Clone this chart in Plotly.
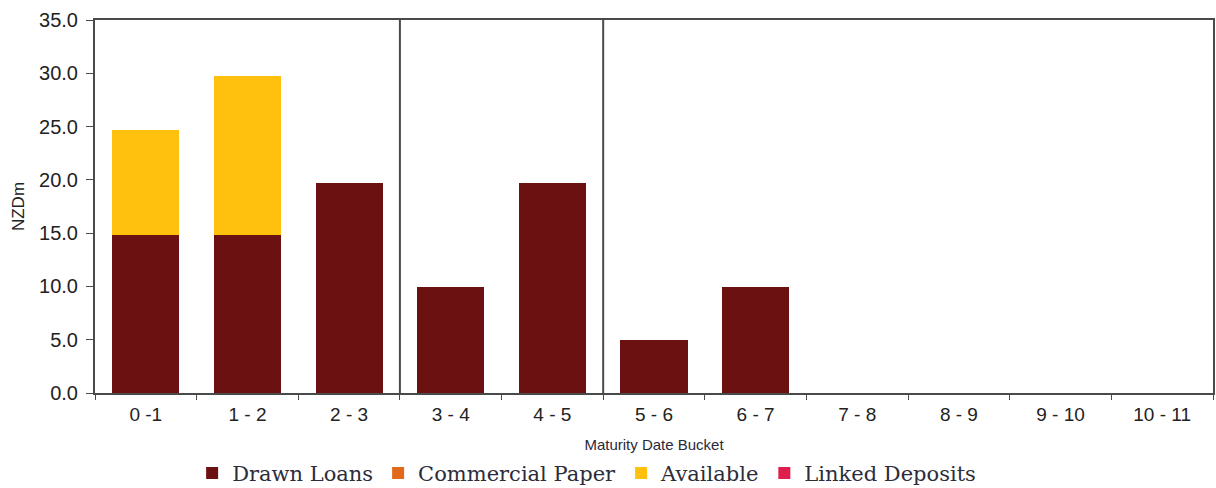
import plotly.graph_objects as go

# Maturity buckets (years) and facility amounts in NZD millions
buckets = ["0 -1", "1 - 2", "2 - 3", "3 - 4", "4 - 5", "5 - 6",
           "6 - 7", "7 - 8", "8 - 9", "9 - 10", "10 - 11"]
drawn_loans = [14.8, 14.8, 19.7, 9.9, 19.7, 5.0, 9.9, 0, 0, 0, 0]
commercial_paper = [0, 0, 0, 0, 0, 0, 0, 0, 0, 0, 0]
available = [9.9, 14.9, 0, 0, 0, 0, 0, 0, 0, 0, 0]
linked_deposits = [0, 0, 0, 0, 0, 0, 0, 0, 0, 0, 0]

y_ticks = [0, 5, 10, 15, 20, 25, 30, 35]
# Group dividers between bucket ranges (category positions)
dividers = [2.5, 4.5]

series = [
    ("Drawn Loans", drawn_loans, "#6b1111"),
    ("Commercial Paper", commercial_paper, "#e0691a"),
    ("Available", available, "#ffc10e"),
    ("Linked Deposits", linked_deposits, "#de1f4c"),
]

fig = go.Figure()
for name, vals, color in series:
    fig.add_trace(go.Bar(
        x=buckets, y=vals, name=name,
        marker=dict(color=color, line=dict(width=0)),
    ))

axis_color = "#4a4a4a"
for d in dividers:
    fig.add_shape(type="line", xref="x", yref="y", x0=d, x1=d, y0=0, y1=35,
                  line=dict(color=axis_color, width=2))

fig.update_layout(
    width=1216, height=488,
    margin=dict(l=95, r=3, t=20, b=95, autoexpand=False),
    paper_bgcolor="white", plot_bgcolor="white",
    barmode="stack", bargap=0.34,
    showlegend=True,
    legend=dict(
        orientation="h", xref="container", yref="container",
        x=0.158, xanchor="left", y=0.03, yanchor="middle",
        font=dict(family="DejaVu Serif", size=21, color="#2c2c3a"),
        itemwidth=30, traceorder="normal",
    ),
    font=dict(family="Liberation Sans, Arial", color="#222222"),
)

fig.update_xaxes(
    type="category", tickson="boundaries", automargin=True,
    ticks="outside", ticklen=5, tickcolor=axis_color,
    showline=True, linecolor=axis_color, linewidth=2, mirror=True,
    showgrid=False,
    tickfont=dict(size=19, color="#222222"),
    ticklabelstandoff=3,
    title=dict(text="Maturity Date Bucket",
               font=dict(size=15, color="#2a2a3a"), standoff=16),
)
fig.update_yaxes(
    range=[0, 35], tickvals=y_ticks, ticktext=[f"{v:.1f}" for v in y_ticks],
    ticks="outside", ticklen=7, tickcolor=axis_color, automargin=True,
    showline=True, linecolor=axis_color, linewidth=2, mirror=True,
    showgrid=False, zeroline=False,
    tickfont=dict(size=20, color="#222222"),
    ticklabelstandoff=4,
    title=dict(text="NZDm", font=dict(size=17, color="#222222"), standoff=10),
)

fig.write_html("out.html")
